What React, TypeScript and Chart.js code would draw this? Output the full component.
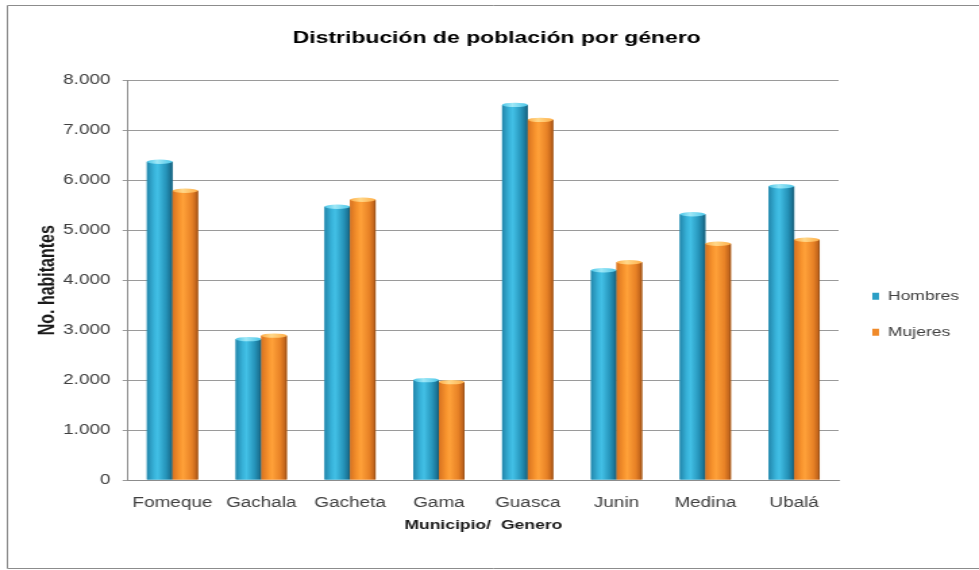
import { useEffect, useRef } from "react";
import { Chart, registerables } from "chart.js";

Chart.register(...registerables);

// Datos del gráfico
const municipios = ["Fomeque", "Gachala", "Gacheta", "Gama", "Guasca", "Junin", "Medina", "Ubalá"];
const hombres = [6370, 2820, 5470, 2000, 7510, 4200, 5320, 5880];
const mujeres = [5790, 2890, 5610, 1960, 7210, 4360, 4730, 4810];
const serieNombres = ["Hombres", "Mujeres"];
const yMax = 8000;
const yPaso = 1000;

const tituloGrafico = "Distribución de población por género";
const tituloEjeX = "Municipio/  Genero";
const tituloEjeY = "No. habitantes";

const FUENTE = "'Liberation Sans', Arial, Helvetica, sans-serif";
// The chart is drawn on a narrower bitmap and stretched horizontally to the page width.
const ANCHO_LIENZO = 725;
const ANCHO_VISIBLE = 979;
const ALTO = 570;

type Parada = [number, string];
const tonos: { base: string; cuerpo: Parada[]; tapa: [string, string] }[] = [
  {
    base: "#2b9fc6",
    cuerpo: [
      [0, "#2286ab"],
      [0.28, "#38b3da"],
      [0.42, "#42c0e6"],
      [0.75, "#2593b9"],
      [0.92, "#1b7394"],
      [1, "#135670"],
    ],
    tapa: ["#9fe8f7", "#4cc6e8"],
  },
  {
    base: "#f08a2a",
    cuerpo: [
      [0, "#d87220"],
      [0.28, "#f7932d"],
      [0.42, "#ffa139"],
      [0.75, "#e88226"],
      [0.92, "#c4661c"],
      [1, "#8c4814"],
    ],
    tapa: ["#ffd88a", "#ffae48"],
  },
];

const miles = (v: number) => String(v).replace(/\B(?=(\d{3})+(?!\d))/g, ".");

// Fondo blanco y marco exterior
const marco = {
  id: "marco",
  beforeDraw(chart: any) {
    const { ctx, width, height } = chart;
    ctx.save();
    ctx.fillStyle = "#ffffff";
    ctx.fillRect(0, 0, width, height);
    ctx.strokeStyle = "#8c8c8c";
    ctx.lineWidth = 1;
    ctx.beginPath();
    ctx.moveTo(width + 2, 5.5);
    ctx.lineTo(5.5, 5.5);
    ctx.lineTo(5.5, height - 1.5);
    ctx.lineTo(width + 2, height - 1.5);
    ctx.stroke();
    ctx.restore();
  },
};

// Barras con aspecto de cilindro: degradado lateral y tapa elíptica
const cilindros = {
  id: "cilindros",
  afterDatasetsDraw(chart: any) {
    const { ctx } = chart;
    chart.data.datasets.forEach((_: any, i: number) => {
      const meta = chart.getDatasetMeta(i);
      if (meta.hidden) return;
      const tono = tonos[i];
      meta.data.forEach((el: any) => {
        const { x, y, base, width } = el.getProps(["x", "y", "base", "width"], true);
        const izq = x - width / 2;
        ctx.save();
        const g = ctx.createLinearGradient(izq, 0, izq + width, 0);
        tono.cuerpo.forEach(([p, c]) => g.addColorStop(p, c));
        ctx.fillStyle = g;
        ctx.fillRect(izq, y, width, base - y);
        const gt = ctx.createLinearGradient(izq, 0, izq + width, 0);
        gt.addColorStop(0, tono.tapa[1]);
        gt.addColorStop(0.4, tono.tapa[0]);
        gt.addColorStop(1, tono.tapa[1]);
        ctx.fillStyle = gt;
        ctx.beginPath();
        ctx.ellipse(x, y, width / 2, 2.2, 0, 0, Math.PI * 2);
        ctx.fill();
        ctx.restore();
      });
    });
  },
};

// Ubicación final de la leyenda y del título
const ajusteCajas = {
  id: "ajusteCajas",
  afterLayout(chart: any) {
    const leyenda = chart.legend;
    if (leyenda) {
      const dx = 623 - leyenda.left;
      const dy = 34;
      leyenda.left += dx;
      leyenda.right += dx;
      leyenda.top += dy;
      leyenda.bottom += dy;
    }
    const titulo = chart.titleBlock;
    if (titulo) {
      const dx = 367.8 - (titulo.left + titulo.right) / 2;
      titulo.left += dx;
      titulo.right += dx;
    }
  },
};

export default function App() {
  const ref = useRef<HTMLCanvasElement | null>(null);

  useEffect(() => {
    document.body.style.margin = "0";
    document.body.style.overflow = "hidden";
    const canvas = ref.current;
    if (!canvas) return;

    const chart = new Chart(canvas, {
      type: "bar",
      data: {
        labels: municipios,
        datasets: [
          { label: serieNombres[0], data: hombres, backgroundColor: tonos[0].base, borderWidth: 0 },
          { label: serieNombres[1], data: mujeres, backgroundColor: tonos[1].base, borderWidth: 0 },
        ],
      },
      options: {
        responsive: false,
        animation: false,
        devicePixelRatio: 1,
        layout: { padding: { left: 6, right: 14, top: 5, bottom: 4 } },
        datasets: { bar: { barPercentage: 1, categoryPercentage: 0.575 } },
        plugins: {
          title: {
            display: true,
            text: tituloGrafico,
            color: "#000000",
            font: { family: FUENTE, size: 17, weight: "bold" },
            padding: { top: 23, bottom: 32 },
          },
          legend: {
            position: "right",
            fullSize: false,
            maxWidth: 90,
            labels: {
              boxWidth: 5,
              boxHeight: 7,
              padding: 23,
              color: "#404040",
              font: { family: FUENTE, size: 13 },
            },
          },
          tooltip: { enabled: false },
        },
        scales: {
          x: {
            afterFit: (s: any) => {
              s.height = 86;
            },
            grid: { display: false, drawTicks: false },
            border: { display: true, color: "#8c8c8c" },
            ticks: {
              color: "#404040",
              font: { family: FUENTE, size: 14 },
              padding: 15,
              maxRotation: 0,
              autoSkip: false,
            },
            title: {
              display: true,
              text: tituloEjeX,
              color: "#1a1a1a",
              font: { family: FUENTE, size: 13, weight: "bold" },
              padding: { top: 3, bottom: 33 },
            },
          },
          y: {
            afterFit: (s: any) => {
              s.width = 88.8;
            },
            min: 0,
            max: yMax,
            grid: { color: "#9a9a9a", tickLength: 4, drawTicks: true },
            border: { display: true, color: "#8c8c8c" },
            ticks: {
              stepSize: yPaso,
              color: "#404040",
              font: { family: FUENTE, size: 14 },
              padding: 9,
              callback: (v: any) => miles(Number(v)),
            },
            title: {
              display: true,
              text: tituloEjeY,
              color: "#1a1a1a",
              font: { family: FUENTE, size: 16, weight: "bold" },
              padding: { top: 20, bottom: 2 },
            },
          },
        },
      } as any,
      plugins: [marco, cilindros, ajusteCajas],
    });

    return () => chart.destroy();
  }, []);

  return (
    <canvas
      ref={ref}
      width={ANCHO_LIENZO}
      height={ALTO}
      style={{ display: "block", width: `${ANCHO_VISIBLE}px`, height: `${ALTO}px` }}
    />
  );
}
